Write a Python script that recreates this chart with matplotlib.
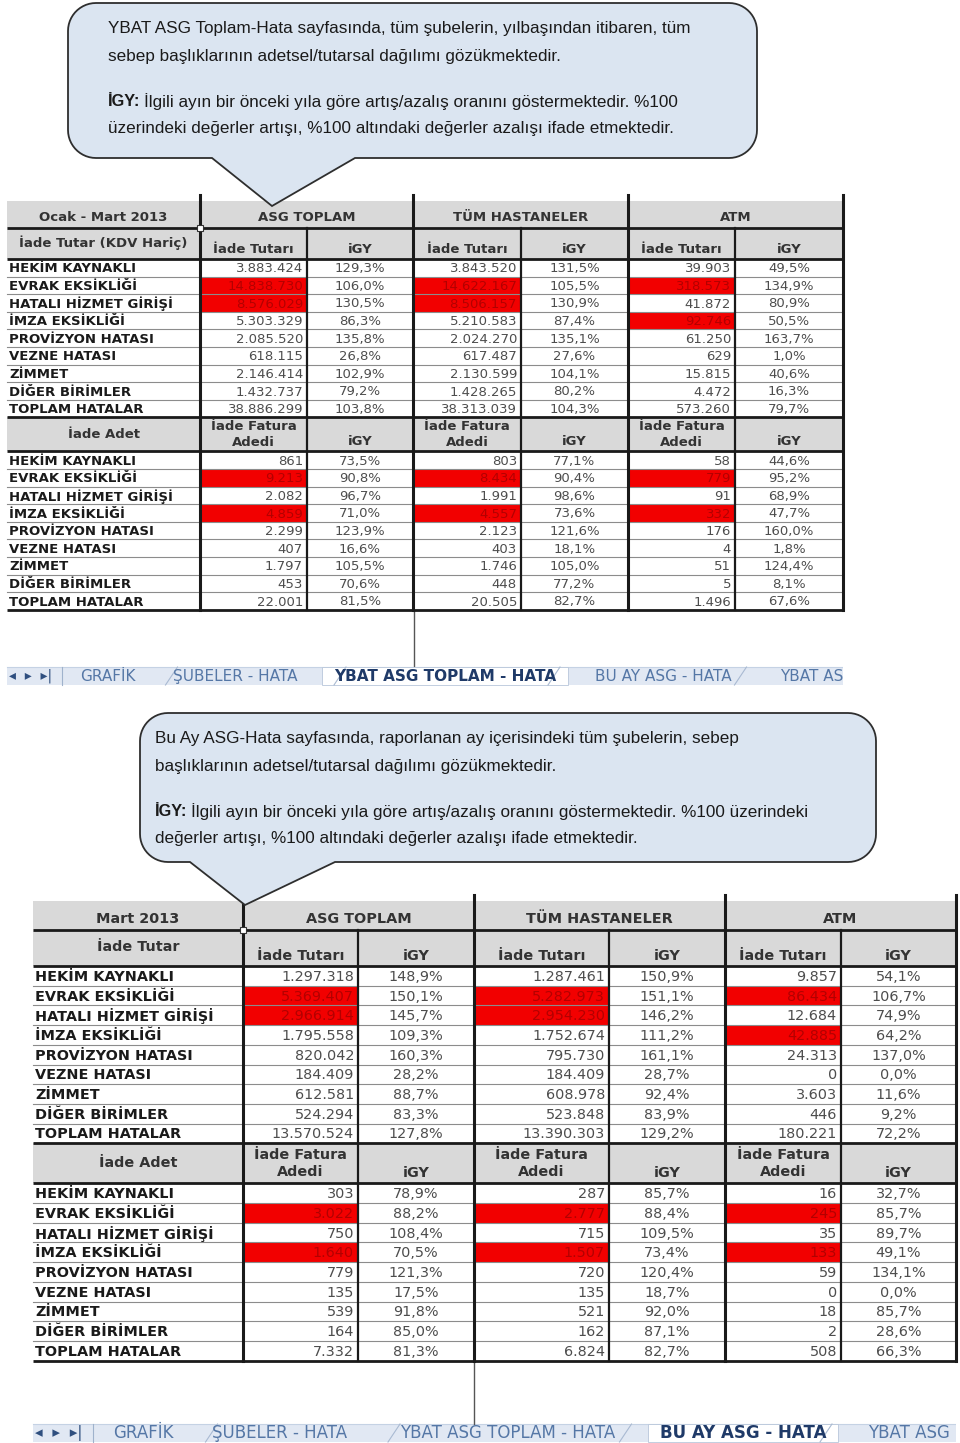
import numpy as np
import matplotlib
matplotlib.use("Agg")
import matplotlib.pyplot as plt
from matplotlib import font_manager
from matplotlib.patches import Rectangle, Polygon


# row labels / column groups
reasons = ["HEKİM KAYNAKLI", "EVRAK EKSİKLİĞİ", "HATALI HİZMET GİRİŞİ",
           "İMZA EKSİKLİĞİ", "PROVİZYON HATASI", "VEZNE HATASI",
           "ZİMMET", "DİĞER BİRİMLER", "TOPLAM HATALAR"]
groups = ["ASG TOPLAM", "TÜM HASTANELER", "ATM"]
amount_col = "İade Tutarı"
count_col = "İade Fatura\nAdedi"
igy_col = "iGY"
count_head = "İade Adet"

# table 1 : Ocak - Mart 2013
ytd_title = "Ocak - Mart 2013"
ytd_amount_head = "İade Tutar (KDV Hariç)"
ytd_amt_asg = [3883424, 14838730, 8576029, 5303329, 2085520, 618115, 2146414, 1432737, 38886299]
ytd_amt_asg_igy = [129.3, 106.0, 130.5, 86.3, 135.8, 26.8, 102.9, 79.2, 103.8]
ytd_amt_tum = [3843520, 14622167, 8506157, 5210583, 2024270, 617487, 2130599, 1428265, 38313039]
ytd_amt_tum_igy = [131.5, 105.5, 130.9, 87.4, 135.1, 27.6, 104.1, 80.2, 104.3]
ytd_amt_atm = [39903, 318573, 41872, 92746, 61250, 629, 15815, 4472, 573260]
ytd_amt_atm_igy = [49.5, 134.9, 80.9, 50.5, 163.7, 1.0, 40.6, 16.3, 79.7]
ytd_cnt_asg = [861, 9213, 2082, 4859, 2299, 407, 1797, 453, 22001]
ytd_cnt_asg_igy = [73.5, 90.8, 96.7, 71.0, 123.9, 16.6, 105.5, 70.6, 81.5]
ytd_cnt_tum = [803, 8434, 1991, 4557, 2123, 403, 1746, 448, 20505]
ytd_cnt_tum_igy = [77.1, 90.4, 98.6, 73.6, 121.6, 18.1, 105.0, 77.2, 82.7]
ytd_cnt_atm = [58, 779, 91, 332, 176, 4, 51, 5, 1496]
ytd_cnt_atm_igy = [44.6, 95.2, 68.9, 47.7, 160.0, 1.8, 124.4, 8.1, 67.6]

# table 2 : Mart 2013
mon_title = "Mart 2013"
mon_amount_head = "İade Tutar"
mon_amt_asg = [1297318, 5369407, 2966914, 1795558, 820042, 184409, 612581, 524294, 13570524]
mon_amt_asg_igy = [148.9, 150.1, 145.7, 109.3, 160.3, 28.2, 88.7, 83.3, 127.8]
mon_amt_tum = [1287461, 5282973, 2954230, 1752674, 795730, 184409, 608978, 523848, 13390303]
mon_amt_tum_igy = [150.9, 151.1, 146.2, 111.2, 161.1, 28.7, 92.4, 83.9, 129.2]
mon_amt_atm = [9857, 86434, 12684, 42885, 24313, 0, 3603, 446, 180221]
mon_amt_atm_igy = [54.1, 106.7, 74.9, 64.2, 137.0, 0.0, 11.6, 9.2, 72.2]
mon_cnt_asg = [303, 3022, 750, 1640, 779, 135, 539, 164, 7332]
mon_cnt_asg_igy = [78.9, 88.2, 108.4, 70.5, 121.3, 17.5, 91.8, 85.0, 81.3]
mon_cnt_tum = [287, 2777, 715, 1507, 720, 135, 521, 162, 6824]
mon_cnt_tum_igy = [85.7, 88.4, 109.5, 73.4, 120.4, 18.7, 92.0, 87.1, 82.7]
mon_cnt_atm = [16, 245, 35, 133, 59, 0, 18, 2, 508]
mon_cnt_atm_igy = [32.7, 85.7, 89.7, 49.1, 134.1, 0.0, 85.7, 28.6, 66.3]

# red highlighted rows per group
amt_red = [[1, 2], [1, 2], [1, 3]]
cnt_red = [[1, 3], [1, 3], [1, 3]]

# sheet tabs
tab_names = ["GRAFİK", "ŞUBELER - HATA", "YBAT ASG TOPLAM - HATA", "BU AY ASG - HATA", "YBAT ASG"]

# callout texts
note1_lines = ["YBAT ASG Toplam-Hata sayfasında, tüm şubelerin, yılbaşından itibaren, tüm",
               "sebep başlıklarının adetsel/tutarsal dağılımı gözükmektedir."]
note1_igy = ["İlgili ayın bir önceki yıla göre artış/azalış oranını göstermektedir. %100",
             "üzerindeki değerler artışı, %100 altındaki değerler azalışı ifade etmektedir."]
note2_lines = ["Bu Ay ASG-Hata sayfasında, raporlanan ay içerisindeki tüm şubelerin, sebep",
               "başlıklarının adetsel/tutarsal dağılımı gözükmektedir."]
note2_igy = ["İlgili ayın bir önceki yıla göre artış/azalış oranını göstermektedir. %100 üzerindeki",
             "değerler artışı, %100 altındaki değerler azalışı ifade etmektedir."]


def fmt_int(v):
    return f"{v:,}".replace(",", ".")


def fmt_pct(v):
    return f"{v:.1f}%".replace(".", ",")


installed = {f.name for f in font_manager.fontManager.ttflist}
if "Liberation Sans Narrow" in installed:
    note_font, note_fs = "Liberation Sans Narrow", 15
else:
    note_font, note_fs = "Liberation Sans", 12.3

fig = plt.figure(figsize=(9.6, 14.43), dpi=100)
ax = fig.add_axes([0, 0, 1, 1])
ax.set_xlim(0, 960)
ax.set_ylim(1443, 0)
ax.axis("off")
renderer = fig.canvas.get_renderer()

TXT = "#333333"
NUM = "#4d4d4d"


def draw_table(xe, y0, heads, rh, fs, title, amount_head, amt, amt_igy, cnt, cnt_igy):
    n = len(reasons)
    y_h2 = y0 + heads[0]
    y_r1 = y_h2 + heads[1]
    y_h3 = y_r1 + rh * n
    y_r2 = y_h3 + heads[2]
    y_end = y_r2 + rh * n
    left, right = xe[0], xe[-1]

    for ya, yb in [(y0, y_r1), (y_h3, y_r2)]:
        ax.add_patch(Rectangle((left, ya), right - left, yb - ya, fc="#d9d9d9", ec="none", zorder=1))

    # header texts
    ax.text((xe[0] + xe[1]) / 2, y_h2 - 4, title, ha="center", va="bottom",
            fontsize=fs, fontweight="bold", color=TXT, zorder=4)
    ax.text((xe[0] + xe[1]) / 2, (y_h2 + y_r1) / 2 - 1, amount_head, ha="center", va="center",
            fontsize=fs, fontweight="bold", color=TXT, zorder=4)
    ax.text((xe[0] + xe[1]) / 2, (y_h3 + y_r2) / 2, count_head, ha="center", va="center",
            fontsize=fs, fontweight="bold", color=TXT, zorder=4)
    for g, name in enumerate(groups):
        xa, xm, xb = xe[1 + 2 * g], xe[2 + 2 * g], xe[3 + 2 * g]
        ax.text((xa + xb) / 2, y_h2 - 4, name, ha="center", va="bottom",
                fontsize=fs, fontweight="bold", color=TXT, zorder=4)
        ax.text((xa + xm) / 2, y_r1 - 3, amount_col, ha="center", va="bottom",
                fontsize=fs, fontweight="bold", color=TXT, zorder=4)
        ax.text((xm + xb) / 2, y_r1 - 3, igy_col, ha="center", va="bottom",
                fontsize=fs, fontweight="bold", color=TXT, zorder=4)
        ax.text((xa + xm) / 2, (y_h3 + y_r2) / 2, count_col, ha="center", va="center",
                fontsize=fs, fontweight="bold", color=TXT, zorder=4, linespacing=1.3)
        ax.text((xm + xb) / 2, y_r2 - 3, igy_col, ha="center", va="bottom",
                fontsize=fs, fontweight="bold", color=TXT, zorder=4)

        for sec_y, vals, igys, reds in [(y_r1, amt[g], amt_igy[g], amt_red[g]),
                                        (y_r2, cnt[g], cnt_igy[g], cnt_red[g])]:
            for i, (v, p) in enumerate(zip(vals, igys)):
                yc = sec_y + (i + 0.5) * rh
                red = i in reds
                if red:
                    ax.add_patch(Rectangle((xa, sec_y + i * rh), xm - xa, rh,
                                           fc="#f20000", ec="none", zorder=1))
                ax.text(xm - 4, yc + 1, fmt_int(v), ha="right", va="center", fontsize=fs,
                        color="#b30000" if red else NUM, zorder=4)
                ax.text((xm + xb) / 2, yc + 1, fmt_pct(p), ha="center", va="center",
                        fontsize=fs, color=NUM, zorder=4)

    for sec_y in [y_r1, y_r2]:
        for i, lab in enumerate(reasons):
            ax.text(left + 2, sec_y + (i + 0.5) * rh + 1, lab, ha="left", va="center",
                    fontsize=fs, fontweight="bold", color="#1a1a1a", zorder=4)
        for i in range(1, n):
            ax.plot([left, right], [sec_y + i * rh] * 2, color="#8c8c8c", lw=0.8, zorder=2)

    for y in [y_h2, y_r1, y_h3, y_r2, y_end]:
        ax.plot([left, right], [y, y], color="#1a1a1a", lw=2.0, zorder=3,
                solid_capstyle="butt")
    for k in [1, 3, 5, 7]:
        ax.plot([xe[k], xe[k]], [y0 - 6, y_end], color="#1a1a1a", lw=2.2, zorder=3)
    for k in [2, 4, 6]:
        ax.plot([xe[k], xe[k]], [y_h2, y_end], color="#1a1a1a", lw=1.6, zorder=3)
    ax.plot(xe[1], y_h2, marker="s", ms=4, mfc="white", mec="#333333", mew=0.8, zorder=5)
    return y_end


def draw_tabs(x0, x1, yc, h, centers, active, fs, line_from, line_x, sep_x):
    ax.add_patch(Rectangle((x0, yc - h / 2), x1 - x0, h, fc="#e1e8f3", ec="none", zorder=1))
    ax.plot([x0, x1], [yc - h / 2] * 2, color="#c5d2e4", lw=0.8, zorder=2)
    ax.plot([line_x, line_x], [line_from, yc - h / 2], color="#555555", lw=1.0, zorder=2)
    ax.text(x0 + 2, yc, "◂  ▸  ▸|", ha="left", va="center", fontsize=fs - 1,
            color="#2f4f7f", zorder=4)
    ax.plot([sep_x, sep_x], [yc - h / 2, yc + h / 2], color="#9fb2cc", lw=0.8, zorder=2)
    for i, (c, name) in enumerate(zip(centers, tab_names)):
        is_act = i == active
        t = ax.text(c, yc + 5, name, ha="center", va="baseline", fontsize=fs,
                    fontweight="bold" if is_act else "normal",
                    color="#1f3a68" if is_act else "#5577a6", zorder=4)
        if is_act:
            bb = t.get_window_extent(renderer)
            ax.add_patch(Rectangle((bb.x0 - 12, yc - h / 2), bb.width + 24, h,
                                   fc="white", ec="#b8c6da", lw=0.6, zorder=2))
        if i + 1 < len(centers):
            xm = (c + centers[i + 1]) / 2
            ax.plot([xm - 6, xm + 6], [yc + h / 2, yc - h / 2], color="#a9bad2", lw=0.8, zorder=3)
    # window edge cuts the last tab
    ax.add_patch(Rectangle((x1, yc - h), 960 - x1, 2 * h, fc="white", ec="none", zorder=5))


def draw_note(x0, y0, x1, y1, r, bx0, bx1, apex, tx, ty, lines, igy_lines, dy, gap):
    pts = []

    def arc(cx, cy, a0, a1):
        t = np.radians(np.linspace(a0, a1, 14))
        return list(zip(cx + r * np.cos(t), cy + r * np.sin(t)))

    pts += arc(x0 + r, y0 + r, 180, 270)
    pts += arc(x1 - r, y0 + r, 270, 360)
    pts += arc(x1 - r, y1 - r, 0, 90)
    pts += [(bx1, y1), apex, (bx0, y1)]
    pts += arc(x0 + r, y1 - r, 90, 180)
    ax.add_patch(Polygon(pts, closed=True, fc="#dbe5f1", ec="#2e2e2e", lw=1.3, zorder=6))

    y = ty
    for ln in lines:
        ax.text(tx, y, ln, ha="left", va="center", fontsize=note_fs, family=note_font,
                color="#1a1a1a", zorder=7)
        y += dy
    y += gap
    for j, ln in enumerate(igy_lines):
        x = tx
        if j == 0:
            b = ax.text(tx, y, "İGY:", ha="left", va="center", fontsize=note_fs - 0.5,
                        family=note_font, fontweight="bold", color="#1a1a1a", zorder=7)
            x = tx + b.get_window_extent(renderer).width + 4
        ax.text(x, y, ln, ha="left", va="center", fontsize=note_fs, family=note_font,
                color="#1a1a1a", zorder=7)
        y += dy


# top table
x_top = [7, 200, 307, 413, 521, 628, 735, 843]
end1 = draw_table(x_top, 201, [27, 31, 34], 17.6, 9.5, ytd_title, ytd_amount_head,
                  [ytd_amt_asg, ytd_amt_tum, ytd_amt_atm],
                  [ytd_amt_asg_igy, ytd_amt_tum_igy, ytd_amt_atm_igy],
                  [ytd_cnt_asg, ytd_cnt_tum, ytd_cnt_atm],
                  [ytd_cnt_asg_igy, ytd_cnt_tum_igy, ytd_cnt_atm_igy])
draw_tabs(7, 843, 676, 18, [108, 235, 445, 663, 818], 2, 11, end1, 414, 62)
draw_note(68, 3, 757, 158, 28, 212, 355, (272, 206), 108, 29,
          note1_lines, note1_igy, 27, 19)

# bottom table
x_bot = [33, 243, 358, 474, 609, 725, 841, 956]
end2 = draw_table(x_bot, 901, [29, 36, 40], 19.7, 10.4, mon_title, mon_amount_head,
                  [mon_amt_asg, mon_amt_tum, mon_amt_atm],
                  [mon_amt_asg_igy, mon_amt_tum_igy, mon_amt_atm_igy],
                  [mon_cnt_asg, mon_cnt_tum, mon_cnt_atm],
                  [mon_cnt_asg_igy, mon_cnt_tum_igy, mon_cnt_atm_igy])
draw_tabs(33, 956, 1433, 18, [143, 280, 508, 743, 909], 3, 12, end2, 474, 93)
draw_note(140, 713, 876, 862, 28, 190, 335, (245, 905), 155, 739,
          note2_lines, note2_igy, 27, 19)

fig.savefig("out.png", dpi=100)
